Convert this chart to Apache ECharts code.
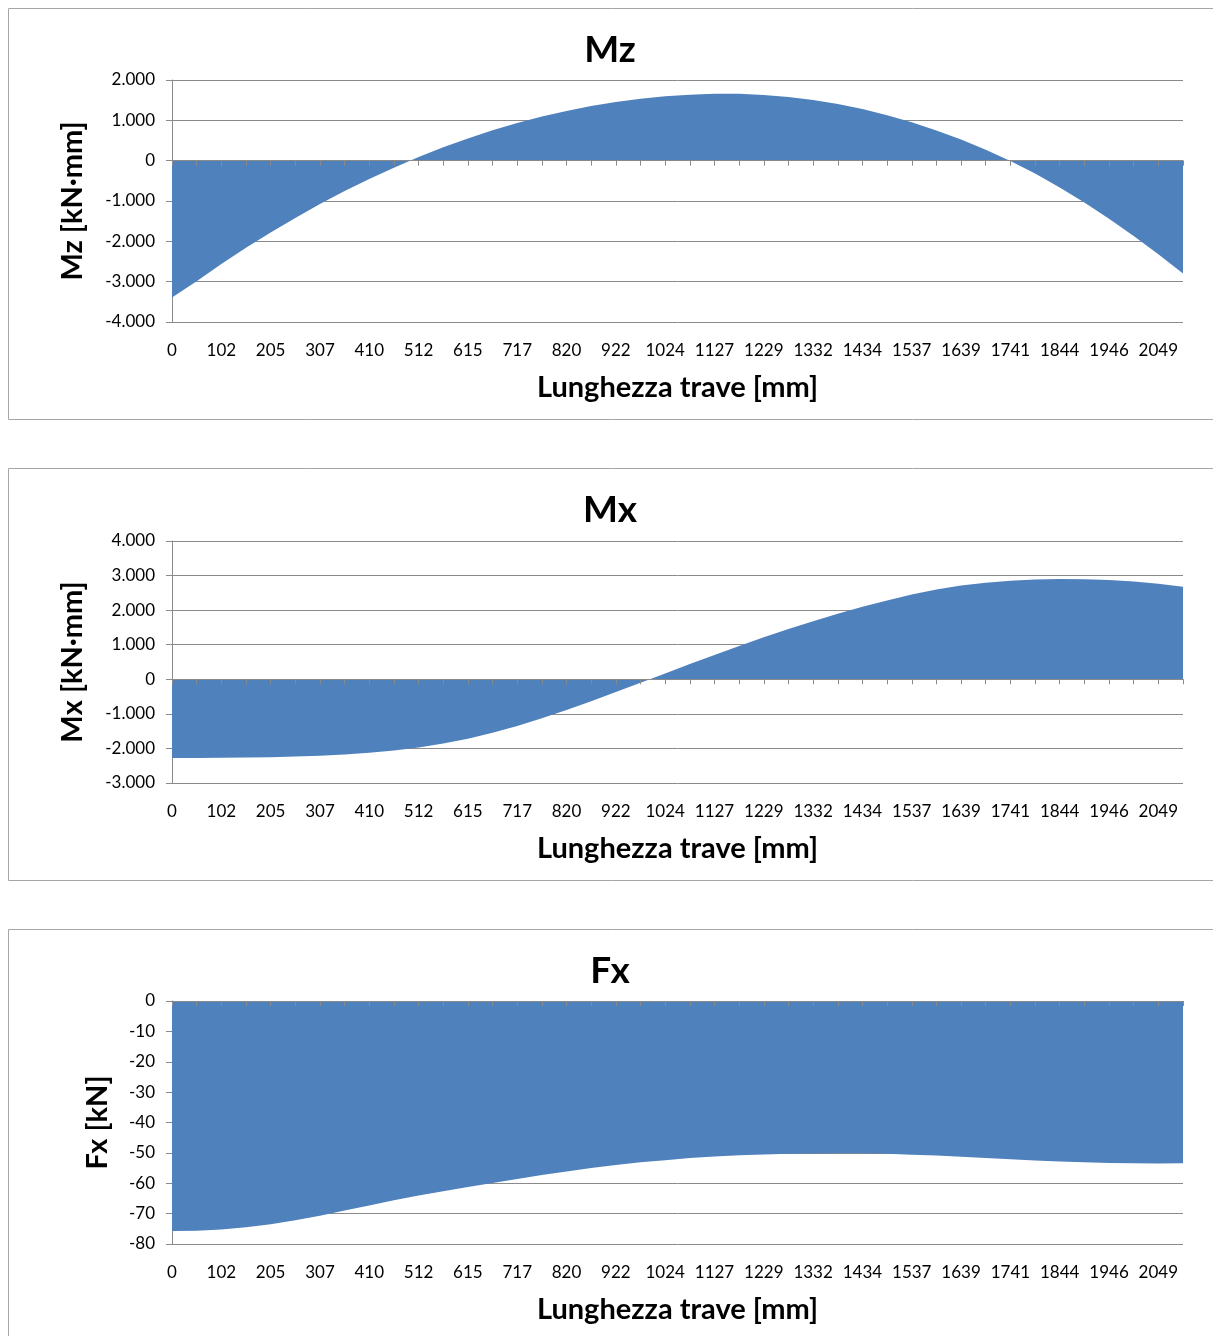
<!DOCTYPE html>
<html>
<head>
<meta charset="utf-8">
<title>Sollecitazioni lungo la trave</title>
<script src="https://cdn.jsdelivr.net/npm/echarts@6/dist/echarts.min.js"></script>
<style>
  html, body { margin: 0; padding: 0; background: #ffffff; }
  #chart { width: 1213px; height: 1336px; }
</style>
</head>
<body>
<div id="chart"></div>
<script>
// Stations along the beam [mm]
const positionsMm = [0, 51, 102, 154, 205, 256, 307, 359, 410, 461, 512, 563, 615, 666, 717, 768,
  820, 871, 922, 973, 1024, 1076, 1127, 1178, 1229, 1280, 1332, 1383, 1434, 1485, 1537, 1588,
  1639, 1690, 1741, 1793, 1844, 1895, 1946, 1998, 2049, 2100];

// Bending moment Mz [kN·mm]
const mzValues = [-3395, -2990, -2565, -2162, -1781, -1419, -1077, -755, -454, -173, 89, 330,
  551, 752, 933, 1094, 1234, 1355, 1455, 1536, 1596, 1636, 1656, 1656, 1631, 1580, 1505, 1404,
  1278, 1127, 951, 749, 523, 271, -6, -320, -665, -1040, -1440, -1865, -2320, -2797];

// Bending moment Mx [kN·mm]
const mxValues = [-2276, -2275, -2272, -2265, -2254, -2236, -2210, -2174, -2124, -2057, -1970,
  -1860, -1720, -1550, -1350, -1130, -890, -635, -370, -100, 170, 440, 705, 965, 1215, 1455,
  1680, 1895, 2095, 2280, 2450, 2595, 2710, 2795, 2850, 2884, 2898, 2893, 2872, 2832, 2765, 2676];

// Axial force Fx [kN]
const fxValues = [-75.7, -75.6, -75.2, -74.5, -73.5, -72.2, -70.7, -69.0, -67.3, -65.6, -64.0,
  -62.6, -61.2, -59.9, -58.6, -57.3, -56.1, -55.0, -54.0, -53.1, -52.4, -51.7, -51.2, -50.8,
  -50.5, -50.3, -50.2, -50.1, -50.1, -50.3, -50.6, -50.9, -51.3, -51.7, -52.1, -52.5, -52.8,
  -53.1, -53.3, -53.4, -53.5, -53.4];

// Panel titles and axis names
const panelTitles = ['Mz', 'Mx', 'Fx'];
const yAxisNames = ['Mz [kN·mm]', 'Mx [kN·mm]', 'Fx [kN]'];
const xAxisName = 'Lunghezza trave [mm]';

// Y scales: [min, max, step]
const yScales = [[-4000, 2000, 1000], [-3000, 4000, 1000], [-80, 0, 10]];

const FILL = '#4F81BD';
const GRID_GREY = '#8a8a8a';
const FRAME_GREY = '#a6a6a6';
const FONT = 'Lato, Carlito, Calibri, sans-serif';

// Italian number format: thousands separated by a dot
function itNumber(v) {
  const s = Math.abs(v).toString().replace(/\B(?=(\d{3})+(?!\d))/g, '.');
  return (v < 0 ? '-' : '') + s;
}

const panels = [
  { top: 80, height: 242, frameTop: 8.5, frameHeight: 411, titleY: 50, nameGap: 85, data: mzValues },
  { top: 541, height: 242, frameTop: 468.5, frameHeight: 412, titleY: 510, nameGap: 85, data: mxValues },
  { top: 1001, height: 243, frameTop: 929.5, frameHeight: 430, titleY: 971, nameGap: 60, data: fxValues }
];

const option = {
  animation: false,
  backgroundColor: '#ffffff',
  textStyle: { fontFamily: FONT },
  title: [],
  grid: [],
  xAxis: [],
  yAxis: [],
  series: [],
  graphic: []
};

panels.forEach(function (p, i) {
  option.graphic.push({
    type: 'rect',
    silent: true,
    z: -10,
    shape: { x: 8.5, y: p.frameTop, width: 1240, height: p.frameHeight },
    style: { fill: 'none', stroke: FRAME_GREY, lineWidth: 1 }
  });

  option.title.push({
    text: panelTitles[i],
    left: 610,
    top: p.titleY - 18,
    padding: 0,
    textAlign: 'center',
    textStyle: { fontFamily: FONT, fontWeight: 'bold', fontSize: 37, color: '#000000' }
  });

  option.grid.push({ left: 172, top: p.top, width: 1011, height: p.height, containLabel: false });

  // Axis line at zero with a tick on every station
  option.xAxis.push({
    type: 'category',
    gridIndex: i,
    position: 'bottom',
    boundaryGap: false,
    data: positionsMm,
    z: 5,
    axisLine: { show: true, onZero: true, lineStyle: { color: GRID_GREY, width: 1 } },
    axisTick: { show: true, interval: 0, length: 5, inside: false, lineStyle: { color: GRID_GREY, width: 1 } },
    axisLabel: { show: false },
    splitLine: { show: false }
  });

  // Labels along the bottom edge, every other station
  option.xAxis.push({
    type: 'category',
    gridIndex: i,
    position: 'bottom',
    boundaryGap: false,
    data: positionsMm,
    name: xAxisName,
    nameLocation: 'middle',
    nameGap: 51,
    nameTextStyle: { fontFamily: FONT, fontWeight: 'bold', fontSize: 29, color: '#000000' },
    axisLine: { show: false, onZero: false },
    axisTick: { show: false },
    axisLabel: { show: true, interval: 1, margin: 20, fontFamily: FONT, fontSize: 17, color: '#000000' },
    splitLine: { show: false }
  });

  option.yAxis.push({
    type: 'value',
    gridIndex: i,
    min: yScales[i][0],
    max: yScales[i][1],
    interval: yScales[i][2],
    name: yAxisNames[i],
    nameLocation: 'middle',
    nameRotate: 90,
    nameGap: p.nameGap,
    nameTextStyle: { fontFamily: FONT, fontWeight: 'bold', fontSize: 29, color: '#000000' },
    axisLine: { show: true, lineStyle: { color: GRID_GREY, width: 1 } },
    axisTick: { show: true, length: 6, lineStyle: { color: GRID_GREY, width: 1 } },
    axisLabel: { margin: 17, fontFamily: FONT, fontSize: 17, color: '#000000', formatter: itNumber },
    splitLine: { show: true, lineStyle: { color: GRID_GREY, width: 1 } }
  });

  option.series.push({
    type: 'line',
    name: panelTitles[i],
    xAxisIndex: i * 2,
    yAxisIndex: i,
    data: p.data,
    symbol: 'none',
    smooth: false,
    lineStyle: { width: 0, color: FILL },
    itemStyle: { color: FILL },
    areaStyle: { color: FILL, opacity: 1, origin: 'auto' },
    z: 2
  });
});

const chart = echarts.init(document.getElementById('chart'), null, { renderer: 'canvas' });
chart.setOption(option);
</script>
</body>
</html>
